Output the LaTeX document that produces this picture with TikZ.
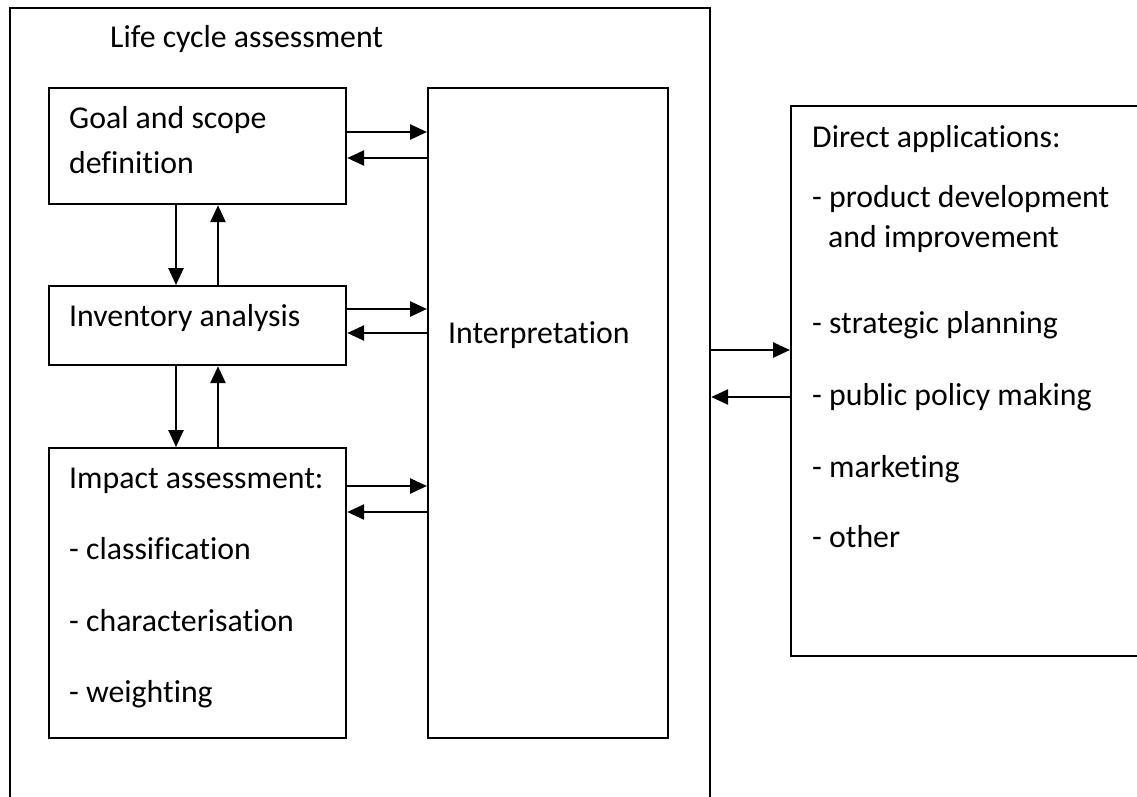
\documentclass[tikz,border=0pt]{standalone}
\usepackage{fontspec}
\setmainfont{Carlito}[Ligatures=CommonOff]
\usetikzlibrary{arrows.meta}
\begin{document}
\begin{tikzpicture}[x=1pt,y=-1pt,
  box/.style={draw, line width=2.2pt, rectangle, inner sep=0pt, anchor=north west},
  lbl/.style={anchor=base west, inner sep=0pt, font=\fontsize{31.8}{38}\selectfont},
  arr/.style={line width=2.6pt, -{Triangle[length=17pt,width=15pt]}}]
\clip (0,0) rectangle (1137,796);
\fill[white] (0,0) rectangle (1137,796);

% frames
\node[box, minimum width=700pt, minimum height=830pt] (lca) at (9,7) {};
\node[box, minimum width=297pt, minimum height=116pt] (goal) at (48,87) {};
\node[box, minimum width=297pt, minimum height=79pt] (inv) at (48,285) {};
\node[box, minimum width=297pt, minimum height=290pt] (imp) at (48,447) {};
\node[box, minimum width=240pt, minimum height=650pt] (interp) at (427,87) {};
\node[box, minimum width=400pt, minimum height=550pt] (direct) at (790,105) {};

% texts
\node[lbl] (t-lca) at (110,47) {Life cycle assessment};
\node[lbl] (t-goal1) at (69,128) {Goal and scope};
\node[lbl] (t-goal2) at (69,173) {definition};
\node[lbl] (t-inv) at (69,326) {Inventory analysis};
\node[lbl] (t-imp) at (69,488) {Impact assessment:};
\node[lbl] (t-imp1) at (69,559) {- classification};
\node[lbl] (t-imp2) at (69,631) {- characterisation};
\node[lbl] (t-imp3) at (69,702) {- weighting};
\node[lbl] (t-int) at (448,343) {Interpretation};
\node[lbl] (t-dir) at (812,147) {Direct applications:};
\node[lbl] (t-dir1) at (812,207) {- product development};
\node[lbl] (t-dir1b) at (828,247) {and improvement};
\node[lbl] (t-dir2) at (812,333) {- strategic planning};
\node[lbl] (t-dir3) at (812,405) {- public policy making};
\node[lbl] (t-dir4) at (812,477) {- marketing};
\node[lbl] (t-dir5) at (812,547) {- other};

% phase <-> interpretation
\draw[arr] (goal.east |- 0,132) -- (interp.west |- 0,132);
\draw[arr] (interp.west |- 0,158) -- (goal.east |- 0,158);
\draw[arr] (inv.east |- 0,309) -- (interp.west |- 0,309);
\draw[arr] (interp.west |- 0,333) -- (inv.east |- 0,333);
\draw[arr] (imp.east |- 0,486) -- (interp.west |- 0,486);
\draw[arr] (interp.west |- 0,512) -- (imp.east |- 0,512);

% phase <-> phase
\draw[arr] (goal.south -| 176,0) -- (inv.north -| 176,0);
\draw[arr] (inv.north -| 218,0) -- (goal.south -| 218,0);
\draw[arr] (inv.south -| 176,0) -- (imp.north -| 176,0);
\draw[arr] (imp.north -| 218,0) -- (inv.south -| 218,0);

% assessment <-> applications
\draw[arr] (lca.east |- 0,350) -- (direct.west |- 0,350);
\draw[arr] (direct.west |- 0,397) -- (lca.east |- 0,397);
\end{tikzpicture}
\end{document}
